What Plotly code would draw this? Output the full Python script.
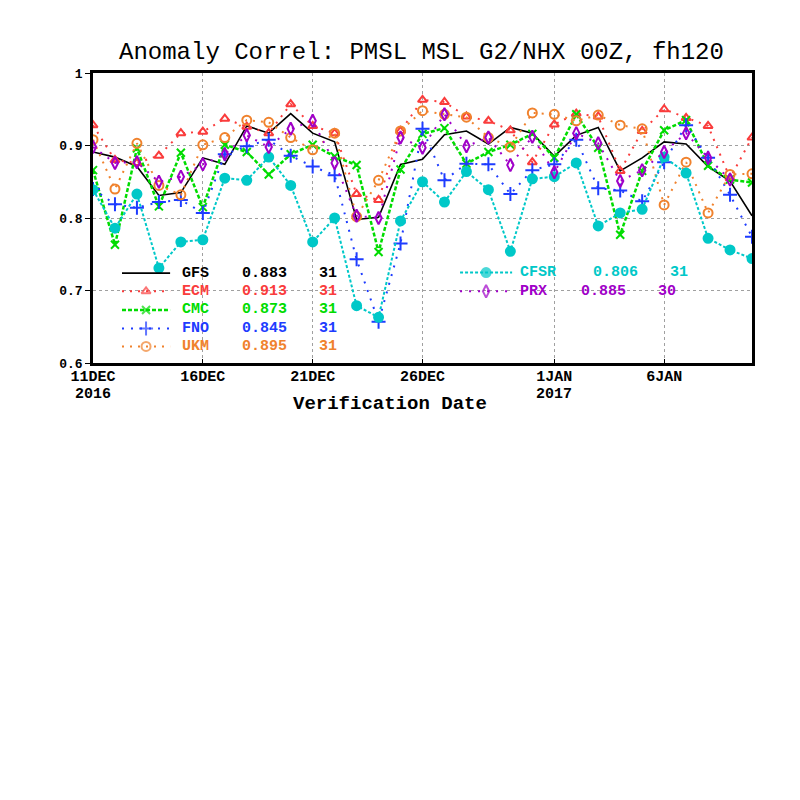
import pandas as pd
import plotly.graph_objs as go

# verification dates, 11 Dec 2016 .. 10 Jan 2017
dates = pd.date_range("2016-12-11", "2017-01-10", freq="D")

gfs = [0.891, 0.884, 0.871, 0.831, 0.835, 0.883, 0.874, 0.927, 0.917, 0.944,
       0.917, 0.905, 0.798, 0.801, 0.874, 0.881, 0.915, 0.920, 0.902, 0.925,
       0.917, 0.885, 0.914, 0.925, 0.865, 0.883, 0.905, 0.902, 0.871, 0.851, 0.803]
ecm = [0.928, 0.880, 0.876, 0.886, 0.917, 0.919, 0.937, 0.926, 0.917, 0.957,
       0.927, 0.917, 0.833, 0.825, 0.920, 0.963, 0.960, 0.940, 0.934, 0.921,
       0.877, 0.929, 0.944, 0.940, 0.865, 0.920, 0.950, 0.938, 0.927, 0.855, 0.911]
cmc = [0.866, 0.763, 0.896, 0.816, 0.890, 0.815, 0.901, 0.891, 0.860, 0.888,
       0.901, 0.885, 0.873, 0.753, 0.867, 0.916, 0.924, 0.875, 0.891, 0.901,
       0.916, 0.883, 0.943, 0.897, 0.777, 0.865, 0.921, 0.935, 0.872, 0.853, 0.849]
fno = [0.840, 0.819, 0.814, 0.822, 0.825, 0.807, 0.888, 0.899, 0.908, 0.886,
       0.871, 0.859, 0.743, 0.657, 0.765, 0.923, 0.852, 0.875, 0.874, 0.833,
       0.866, 0.874, 0.908, 0.841, 0.838, 0.823, 0.877, 0.928, 0.883, 0.832, 0.774]
ukm = [0.908, 0.840, 0.903, 0.845, 0.832, 0.901, 0.911, 0.935, 0.932, 0.911,
       0.894, 0.917, 0.802, 0.852, 0.920, 0.948, 0.943, 0.939, 0.911, 0.898,
       0.945, 0.943, 0.934, 0.942, 0.928, 0.923, 0.818, 0.877, 0.807, 0.860, 0.861]
cfsr = [0.839, 0.786, 0.833, 0.731, 0.767, 0.770, 0.855, 0.852, 0.884, 0.845,
        0.767, 0.800, 0.679, 0.663, 0.796, 0.850, 0.822, 0.864, 0.839, 0.754,
        0.854, 0.857, 0.876, 0.789, 0.807, 0.812, 0.884, 0.862, 0.772, 0.756, 0.744]
prx = [0.898, 0.876, 0.877, 0.850, 0.857, 0.874, 0.888, 0.914, 0.898, 0.923,
       0.934, 0.876, 0.803, 0.800, 0.911, 0.897, 0.943, 0.899, 0.911, 0.873,
       0.912, 0.863, 0.917, 0.903, 0.851, 0.866, 0.891, 0.917, 0.883, 0.853, None]

names = ["GFS", "ECM", "CMC", "FNO", "UKM", "CFSR", "PRX"]
means = ["0.883", "0.913", "0.873", "0.845", "0.895", "0.806", "0.885"]
counts = ["31", "31", "31", "31", "31", "31", "30"]

tick_dates = ["2016-12-11", "2016-12-16", "2016-12-21", "2016-12-26", "2017-01-01", "2017-01-06"]
tick_text = ["11DEC", "16DEC", "21DEC", "26DEC", "1JAN", "6JAN"]
year_dates = ["2016-12-11", "2017-01-01"]
year_text = ["2016", "2017"]
y_ticks = [0.6, 0.7, 0.8, 0.9, 1.0]
y_text = ["0.6", "0.7", "0.8", "0.9", "1"]

series = [gfs, ecm, cmc, fno, ukm, cfsr, prx]
colors = ["black", "#fa3c3c", "#00dc00", "#1e3cff", "#f0822d", "#00c8c8", "#a000c8"]
dashes = ["solid", "2px,6px", "4px,2px", "2px,7px", "2px,6px", "3px,2px", "2px,7px"]
widths = [1.6, 2, 2.5, 2, 2, 2, 2]
symbols = [None, "triangle-up-open", "x-thin-open", "cross-thin-open",
           "circle-open", "circle", "diamond-tall-open"]
msizes = [0, 8, 8, 10, 9, 9, 9]

FONT = "Liberation Mono"

data = []
for i in range(len(names)):
    mk = dict(color=colors[i], size=msizes[i], line=dict(color=colors[i], width=2))
    if symbols[i] is not None:
        mk["symbol"] = symbols[i]
    trace = go.Scatter(
        x=dates, y=series[i], name=names[i],
        mode="lines+markers" if symbols[i] else "lines",
        line=dict(color=colors[i], dash=dashes[i], width=widths[i]),
        marker=mk, connectgaps=False, showlegend=False)
    data.append(trace)

# hand-made legend (two blocks, like the GrADS one)
leg_rows = [0.310, 0.247, 0.183, 0.119, 0.057, 0.312, 0.247]
leg_x0 = [0.044] * 5 + [0.557] * 2
leg_x1 = [0.117] * 5 + [0.636] * 2
name_x = [0.132] * 5 + [0.645] * 2
mean_x = [0.223] * 5 + [0.755, 0.737]
cnt_x = [0.340] * 5 + [0.872, 0.855]

annotations = []
for i in range(len(names)):
    xm = (leg_x0[i] + leg_x1[i]) / 2
    mk = dict(color=colors[i], size=[0, msizes[i], 0], line=dict(color=colors[i], width=2))
    if symbols[i] is not None:
        mk["symbol"] = symbols[i]
    data.append(go.Scatter(
        x=[leg_x0[i], xm, leg_x1[i]], y=[leg_rows[i]] * 3,
        xaxis="x2", yaxis="y2", mode="lines+markers",
        line=dict(color=colors[i], dash=dashes[i], width=widths[i]),
        marker=mk, showlegend=False, hoverinfo="skip"))
    for txt, xx in [(names[i], name_x[i]), (means[i], mean_x[i]), (counts[i], cnt_x[i])]:
        annotations.append(dict(
            text=txt, x=xx, y=leg_rows[i], xref="paper", yref="paper",
            xanchor="left", yanchor="middle", showarrow=False,
            font=dict(family=FONT, size=15, color=colors[i], weight="bold")))

# second line of the date labels
for d, t in zip(year_dates, year_text):
    annotations.append(dict(
        text=t, x=d, y=-0.107, xref="x", yref="paper", showarrow=False,
        xanchor="center", yanchor="middle",
        font=dict(family=FONT, size=15, color="black", weight="bold")))

annotations.append(dict(
    text="Anomaly Correl: PMSL MSL G2/NHX 00Z, fh120", x=0.499, y=1.072,
    xref="paper", yref="paper", showarrow=False, xanchor="center", yanchor="middle",
    font=dict(family=FONT, size=24, color="black")))
annotations.append(dict(
    text="Verification Date", x=0.451, y=-0.142,
    xref="paper", yref="paper", showarrow=False, xanchor="center", yanchor="middle",
    font=dict(family=FONT, size=19, color="black", weight="bold")))

layout = go.Layout(
    width=800, height=800,
    margin=dict(l=85, r=56, t=65, b=445),
    paper_bgcolor="white", plot_bgcolor="white",
    xaxis=dict(
        type="date", range=[dates[0], dates[-1]],
        tickvals=tick_dates, ticktext=tick_text,
        showgrid=True, gridcolor="#a0a0a0", griddash="dot", gridwidth=1,
        showline=True, mirror=True, linecolor="black", linewidth=2.5,
        ticks="inside", ticklen=4, tickcolor="black", ticklabelstandoff=-3,
        tickfont=dict(family=FONT, size=15, color="black", weight="bold"),
        zeroline=False),
    yaxis=dict(
        range=[0.6, 1.0], tickvals=y_ticks, ticktext=y_text,
        showgrid=True, gridcolor="#a0a0a0", griddash="dot", gridwidth=1,
        showline=True, mirror=True, linecolor="black", linewidth=2.5,
        ticks="outside", ticklen=5, tickcolor="black",
        tickfont=dict(family=FONT, size=13, color="black", weight="bold"),
        zeroline=False),
    xaxis2=dict(overlaying="x", range=[0, 1], visible=False),
    yaxis2=dict(overlaying="y", range=[0, 1], visible=False),
    annotations=annotations,
)

fig = go.Figure(data=data, layout=layout)
fig.write_html("out.html")
